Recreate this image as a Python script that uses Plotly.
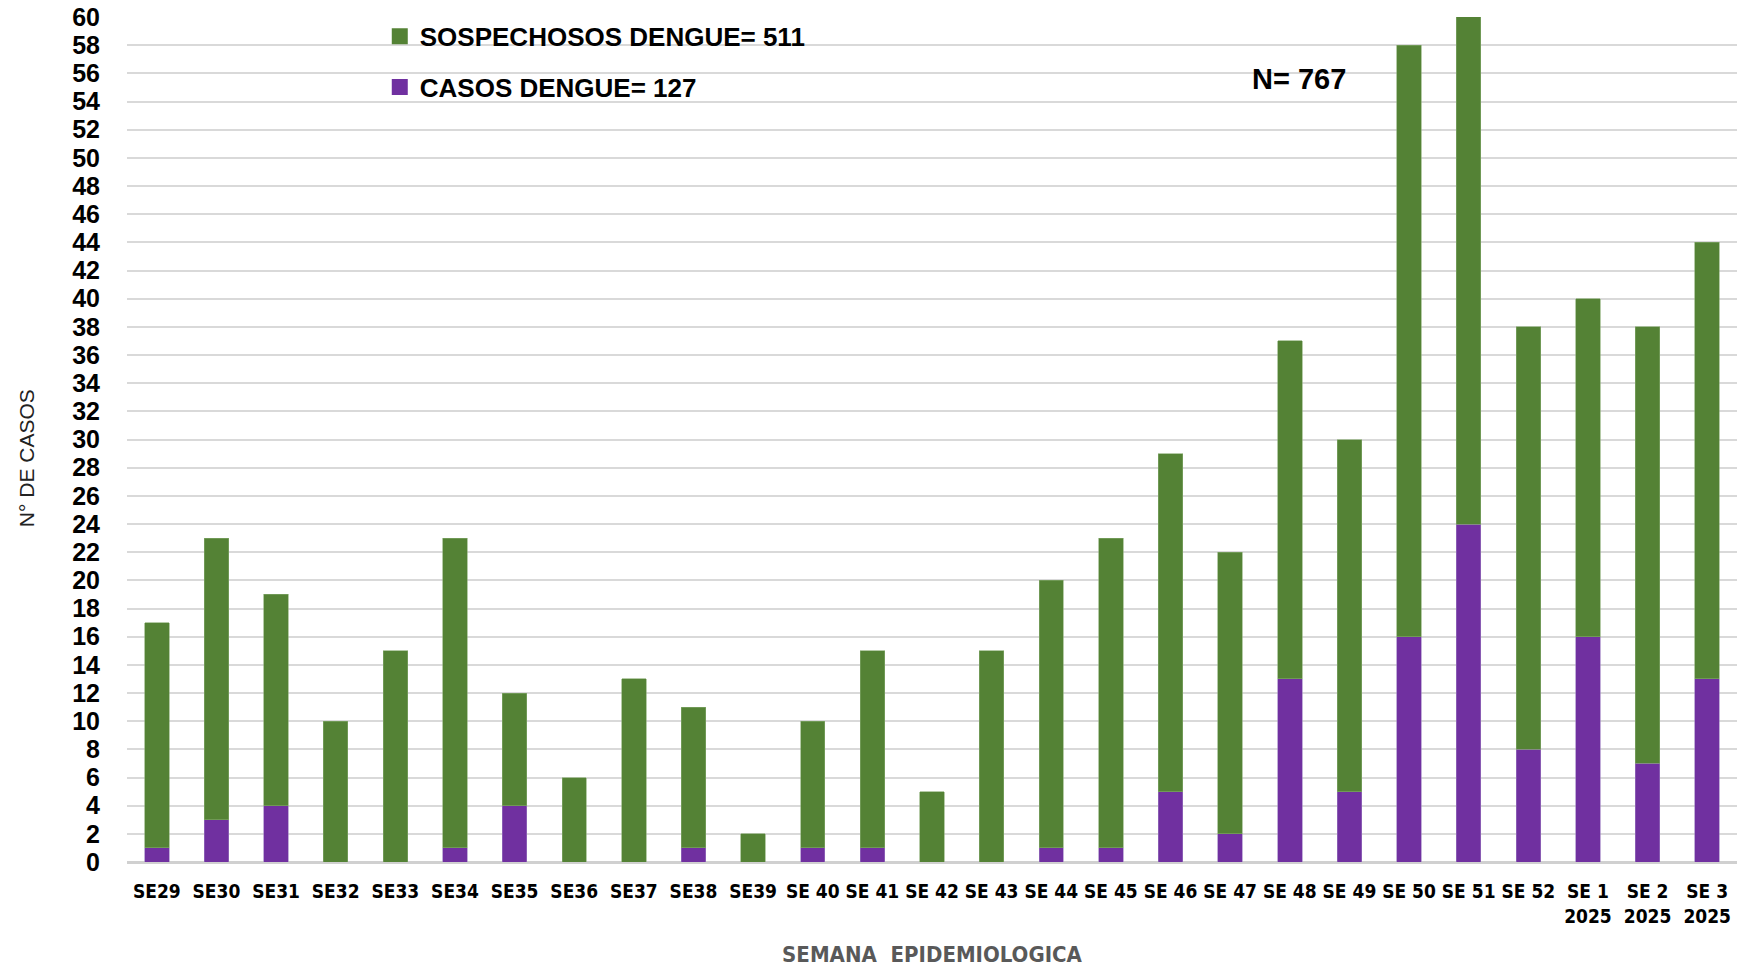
import plotly.graph_objects as go

semanas = ["SE29", "SE30", "SE31", "SE32", "SE33", "SE34", "SE35", "SE36", "SE37", "SE38",
           "SE39", "SE 40", "SE 41", "SE 42", "SE 43", "SE 44", "SE 45", "SE 46", "SE 47",
           "SE 48", "SE 49", "SE 50", "SE 51", "SE 52", "SE 1<br>2025", "SE 2<br>2025", "SE 3<br>2025"]
casos = [1, 3, 4, 0, 0, 1, 4, 0, 0, 1, 0, 1, 1, 0, 0, 1, 1, 5, 2, 13, 5, 16, 24, 8, 16, 7, 13]
sospechosos = [16, 20, 15, 10, 15, 22, 8, 6, 13, 10, 2, 9, 14, 5, 15, 19, 22, 24, 20, 24, 25,
               42, 39, 30, 24, 31, 31]
y_ticks = list(range(0, 61, 2))

GREEN = "#548235"
PURPLE = "#7030A0"
SANS = "Liberation Sans, Arial, sans-serif"
NARROW = "Liberation Sans Narrow, Arial Narrow, DejaVu Sans Condensed, sans-serif"

fig = go.Figure()
fig.add_trace(go.Bar(x=semanas, y=casos, name="CASOS DENGUE= 127",
                     marker=dict(color=PURPLE, line=dict(color="#9a78c0", width=0.6)),
                     showlegend=False))
fig.add_trace(go.Bar(x=semanas, y=sospechosos, name="SOSPECHOSOS DENGUE= 511",
                     marker=dict(color=GREEN, line=dict(color="#84a86c", width=0.6)),
                     showlegend=False))
# legend entries with larger square swatches
fig.add_trace(go.Scatter(x=[None], y=[None], mode="markers", name="SOSPECHOSOS DENGUE= 511",
                         marker=dict(symbol="square", size=16, color=GREEN),
                         legendgroup="s", legendrank=1))
fig.add_trace(go.Scatter(x=[None], y=[None], mode="markers", name="CASOS DENGUE= 127",
                         marker=dict(symbol="square", size=16, color=PURPLE),
                         legendgroup="c", legendrank=2))

fig.update_layout(
    barmode="stack",
    bargap=0.59,
    width=1748, height=967,
    margin=dict(l=127, r=11, t=17, b=105, autoexpand=False),
    plot_bgcolor="white", paper_bgcolor="white",
    font=dict(family=SANS, color="black"),
    legend=dict(x=0.157, y=1.005, xanchor="left", yanchor="top",
                font=dict(size=26, family=SANS, color="black", weight="bold"),
                traceorder="grouped", tracegroupgap=14, bgcolor="rgba(0,0,0,0)",
                itemwidth=30),
    xaxis=dict(tickfont=dict(size=19, family=NARROW, weight="bold"),
               ticklabelstandoff=16, showgrid=False, zeroline=False,
               showline=False, automargin=False,
               title=dict(text="SEMANA  EPIDEMIOLOGICA",
                          font=dict(size=22, family=NARROW, color="#595959", weight="bold"),
                          standoff=21)),
    yaxis=dict(range=[0, 60], tickvals=y_ticks, ticktext=[str(v) for v in y_ticks],
               tickfont=dict(size=25, family=SANS, weight="bold"),
               ticklabelstandoff=26, automargin=False, ticklabeloverflow="allow",
               showgrid=True, gridcolor="#d9d9d9", gridwidth=2,
               zeroline=True, zerolinecolor="#d0d0d0", zerolinewidth=3),
    annotations=[
        dict(text="<b>N= 767</b>", xref="paper", yref="paper", x=0.728, y=0.927,
             xanchor="center", yanchor="middle", showarrow=False,
             font=dict(size=29, color="black")),
        dict(text="N° DE CASOS", xref="paper", yref="paper", x=-0.0627, y=0.478,
             xanchor="center", yanchor="middle", showarrow=False, textangle=-90,
             font=dict(size=21, color="#222222", family=SANS)),
    ],
    showlegend=True,
)

fig.write_html("out.html", config={"displayModeBar": False},
               post_script="document.body.style.margin='0px';")
